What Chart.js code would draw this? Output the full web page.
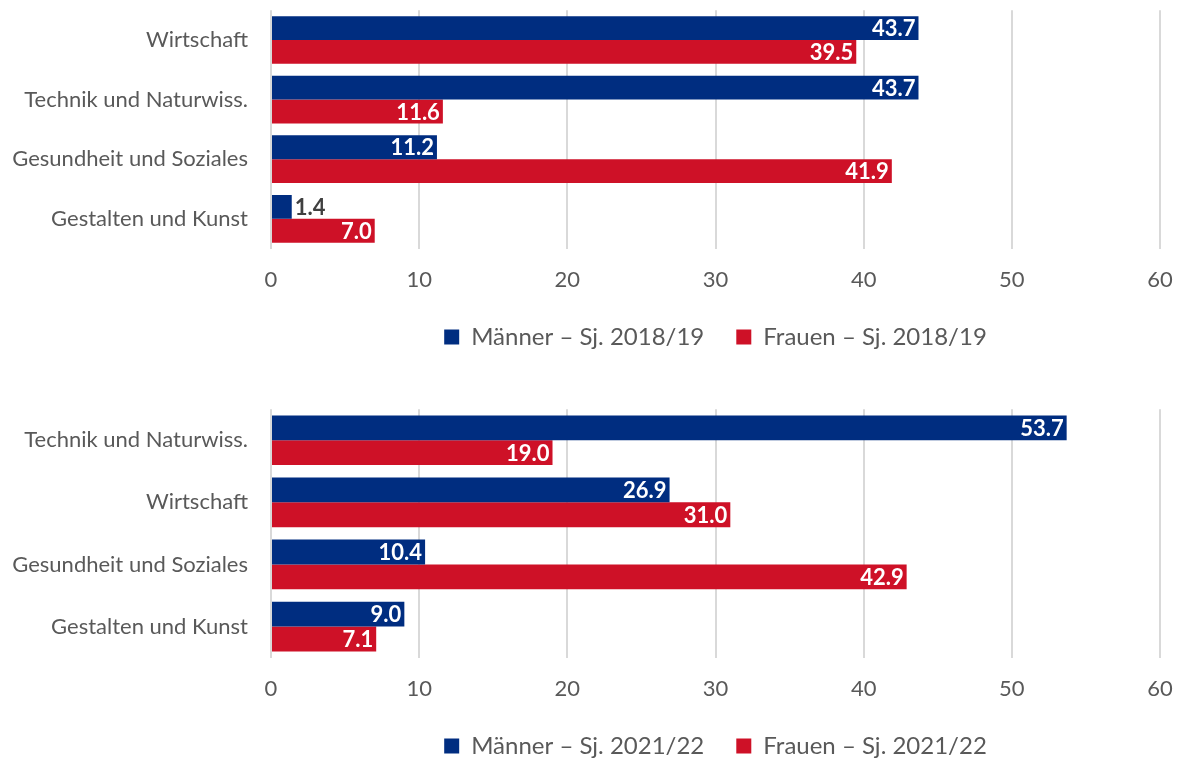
<!DOCTYPE html>
<html>
<head>
<meta charset="utf-8">
<script src="https://cdn.jsdelivr.net/npm/chart.js@4"></script>
<style>
  html, body { margin: 0; padding: 0; background: #fff; overflow: hidden; width: 1180px; height: 760px; }
  .box { position: absolute; left: 0; width: 1180px; }
  #b1 { top: -3px; height: 362px; }
  #b2 { top: 396px; height: 372px; }
</style>
</head>
<body>
<div class="box" id="b1"><canvas id="c1"></canvas></div>
<div class="box" id="b2"><canvas id="c2"></canvas></div>
<script>
// Daten Sj. 2018/19
const categories1819 = ['Wirtschaft', 'Technik und Naturwiss.', 'Gesundheit und Soziales', 'Gestalten und Kunst'];
const maenner1819 = [43.7, 43.7, 11.2, 1.4];
const frauen1819 = [39.5, 11.6, 41.9, 7.0];

// Daten Sj. 2021/22
const categories2122 = ['Technik und Naturwiss.', 'Wirtschaft', 'Gesundheit und Soziales', 'Gestalten und Kunst'];
const maenner2122 = [53.7, 26.9, 10.4, 9.0];
const frauen2122 = [19.0, 31.0, 42.9, 7.1];

const xTicks = [0, 10, 20, 30, 40, 50, 60];

const NAVY = '#002d80';
const RED = '#ce1127';
const GREY = '#595959';
const FONT = 'Lato, "Open Sans", sans-serif';

// Werte am Balkenende (innen weiß, sonst außen dunkelgrau)
const barLabels = {
  id: 'barLabels',
  afterDatasetsDraw(chart) {
    const ctx = chart.ctx;
    ctx.save();
    ctx.font = 'bold 22px ' + FONT;
    ctx.textBaseline = 'middle';
    chart.data.datasets.forEach((ds, i) => {
      const meta = chart.getDatasetMeta(i);
      meta.data.forEach((bar, j) => {
        const txt = ds.data[j].toFixed(1);
        const w = ctx.measureText(txt).width;
        if (bar.x - bar.base > w + 10) {
          ctx.fillStyle = '#ffffff';
          ctx.textAlign = 'right';
          ctx.fillText(txt, bar.x - 3, bar.y + 1);
        } else {
          ctx.fillStyle = '#404040';
          ctx.textAlign = 'left';
          ctx.fillText(txt, bar.x + 3, bar.y + 1);
        }
      });
    });
    ctx.restore();
  }
};

function makeChart(id, cats, men, women, year) {
  return new Chart(document.getElementById(id), {
    type: 'bar',
    data: {
      labels: cats,
      datasets: [
        { label: 'Männer – Sj. ' + year, data: men, backgroundColor: NAVY },
        { label: 'Frauen – Sj. ' + year, data: women, backgroundColor: RED }
      ]
    },
    options: {
      indexAxis: 'y',
      responsive: true,
      maintainAspectRatio: false,
      animation: false,
      datasets: { bar: { categoryPercentage: 0.8, barPercentage: 1.0 } },
      layout: { padding: { top: 0, right: 20, left: 0, bottom: 0 } },
      scales: {
        x: {
          min: 0,
          max: 60,
          afterBuildTicks: (s) => { s.ticks = xTicks.map(v => ({ value: v })); },
          grid: { color: '#d9d9d9', lineWidth: 2, drawTicks: true, tickLength: 18, tickColor: 'transparent' },
          border: { display: false },
          ticks: { color: GREY, font: { family: FONT, size: 22 }, padding: 0 }
        },
        y: {
          grid: { display: true, drawOnChartArea: false, drawTicks: true, tickLength: 23, tickColor: 'transparent' },
          border: { display: false },
          afterFit: (s) => { s.width = 271; },
          ticks: { color: GREY, font: { family: FONT, size: 22 }, padding: 0 }
        }
      },
      plugins: {
        legend: {
          position: 'bottom',
          fullSize: false,
          labels: {
            color: GREY,
            font: { family: FONT, size: 24 },
            boxWidth: 15,
            boxHeight: 15,
            padding: 32
          }
        },
        tooltip: { enabled: false }
      }
    },
    plugins: [barLabels]
  });
}

makeChart('c1', categories1819, maenner1819, frauen1819, '2018/19');
makeChart('c2', categories2122, maenner2122, frauen2122, '2021/22');
</script>
</body>
</html>
